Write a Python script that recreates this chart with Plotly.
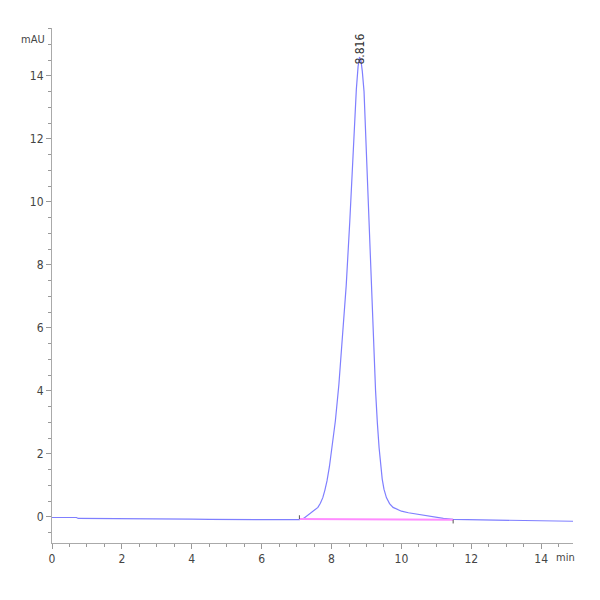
import plotly.graph_objects as go

# retention time (min) and detector signal (mAU)
time_min = [0.0, 0.7, 0.75, 1.5, 2.5, 3.5, 4.0, 4.5, 5.5, 6.5, 7.0, 7.08,
            7.2, 7.37, 7.5, 7.61, 7.68, 7.75, 7.81, 7.87, 7.94, 8.01, 8.11,
            8.21, 8.31, 8.42, 8.52, 8.61, 8.71, 8.76, 8.80, 8.84, 8.88,
            8.93, 9.0, 9.07, 9.14, 9.21, 9.26, 9.31, 9.36, 9.45, 9.5, 9.57,
            9.66, 9.76, 9.88, 10.0, 10.2, 10.43, 10.65, 10.9, 11.2, 11.48,
            12.0, 13.0, 14.0, 14.91]
signal_mau = [-0.02, -0.02, -0.05, -0.05, -0.06, -0.05, -0.07, -0.08, -0.09,
              -0.1, -0.1, -0.09, -0.05, 0.09, 0.18, 0.3, 0.43, 0.61, 0.85,
              1.14, 1.6, 2.2, 3.05, 4.2, 5.6, 7.35, 9.34, 11.46, 13.58,
              14.3, 14.6, 14.5, 14.15, 13.5, 11.46, 9.34, 7.23, 5.3, 4.0,
              3.0, 2.2, 1.2, 0.88, 0.61, 0.42, 0.3, 0.23, 0.18, 0.13, 0.09,
              0.04, 0.0, -0.05, -0.08, -0.09, -0.11, -0.12, -0.14]

# integration baseline of the peak
base_t = [7.08, 11.48]
base_v = [-0.07, -0.09]

peak_rt = 8.816
peak_height = 14.6

fnt = 'Liberation Sans Narrow, DejaVu Sans Condensed, Liberation Sans, sans-serif'

fig = go.Figure()

fig.add_trace(go.Scatter(x=time_min, y=signal_mau, mode='lines',
                         line=dict(color='#7f7fff', width=1.2),
                         hoverinfo='skip'))
fig.add_trace(go.Scatter(x=base_t, y=base_v, mode='lines',
                         line=dict(color='#ff8cff', width=2),
                         hoverinfo='skip'))

# start / end markers of the integration
fig.add_shape(type='line', x0=base_t[0], x1=base_t[0], y0=base_v[0], y1=base_v[0] + 0.12,
              line=dict(color='#555555', width=1))
fig.add_shape(type='line', x0=base_t[1], x1=base_t[1], y0=base_v[1], y1=base_v[1] - 0.12,
              line=dict(color='#555555', width=1))

# retention time label over the apex
fig.add_annotation(x=peak_rt, y=peak_height, text='8.816', textangle=-90,
                   showarrow=False, yanchor='bottom', yshift=-10,
                   font=dict(family=fnt, size=12, color='#333333'))

fig.add_annotation(x=0, y=1, xref='paper', yref='paper', text='mAU',
                   showarrow=False, xanchor='right', yanchor='top', xshift=-5, yshift=-3,
                   font=dict(family=fnt, size=11, color='#444444'))
fig.add_annotation(x=1, y=0, xref='paper', yref='paper', text='min',
                   showarrow=False, xanchor='right', yanchor='top', xshift=4, yshift=-6,
                   font=dict(family=fnt, size=11, color='#444444'))

axis_font = dict(family=fnt, size=12, color='#444444')

fig.update_xaxes(range=[0, 14.91], showgrid=False, zeroline=False, automargin=False,
                 showline=True, linecolor='#aaaaaa', linewidth=1,
                 ticks='outside', tickcolor='#999999', ticklen=5,
                 tickvals=[0, 2, 4, 6, 8, 10, 12, 14], tickfont=axis_font,
                 minor=dict(dtick=0.5, ticks='outside', ticklen=3, tickcolor='#999999'))
fig.update_yaxes(range=[-0.83, 15.52], showgrid=False, zeroline=False, automargin=False,
                 showline=True, linecolor='#aaaaaa', linewidth=1,
                 ticks='outside', tickcolor='#999999', ticklen=5,
                 tickvals=[0, 2, 4, 6, 8, 10, 12, 14], tickfont=axis_font,
                 minor=dict(dtick=0.5, ticks='outside', ticklen=3, tickcolor='#999999'))

fig.update_layout(width=600, height=600, showlegend=False,
                  plot_bgcolor='white', paper_bgcolor='white',
                  margin=dict(l=44, r=35, t=20, b=65))

fig.write_html("out.html")
